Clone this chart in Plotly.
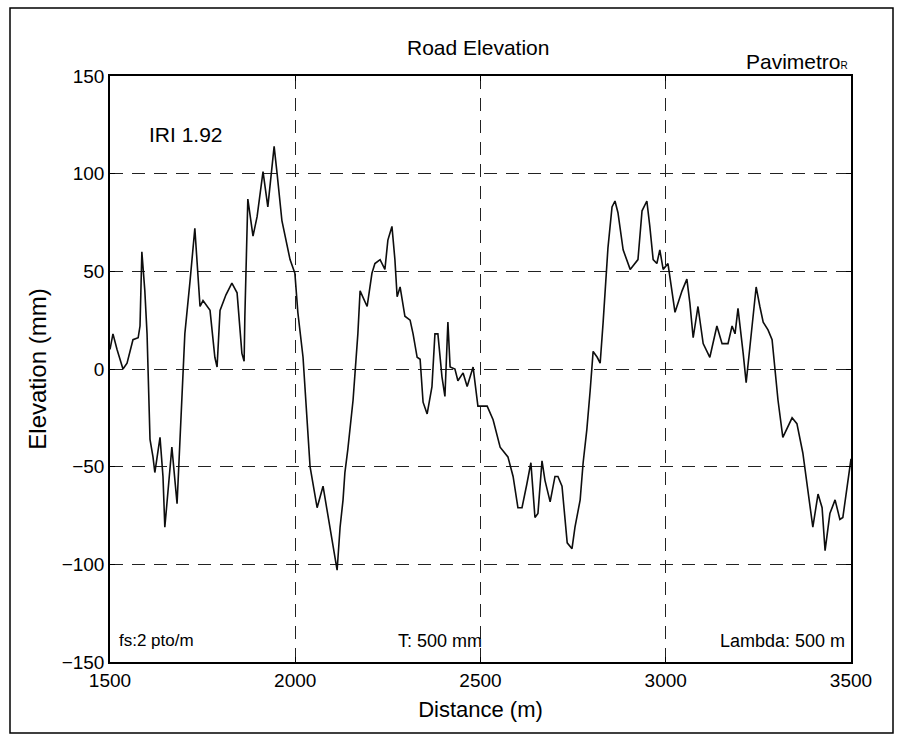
import plotly.graph_objects as go

# Longitudinal road profile, distance (m) vs elevation (mm)
distance_m = [
    1500, 1508, 1519, 1535, 1546, 1562, 1576, 1581, 1586, 1594, 1600, 1608, 1616, 1621,
    1635, 1643, 1648, 1657, 1667, 1681, 1689, 1702, 1716, 1729, 1743, 1751, 1770, 1783,
    1789, 1797, 1813, 1829, 1843, 1856, 1862, 1864, 1872, 1886, 1897, 1913, 1926, 1943,
    1951, 1964, 1986, 1999, 2007, 2021, 2040, 2059, 2075, 2094, 2113, 2121, 2129, 2134,
    2142, 2156, 2161, 2169, 2175, 2194, 2207, 2215, 2229, 2242, 2250, 2261, 2269, 2275,
    2283, 2296, 2310, 2318, 2329, 2337, 2345, 2356, 2369, 2377, 2385, 2396, 2404, 2412,
    2418, 2431, 2439, 2453, 2464, 2480, 2493, 2518, 2534, 2553, 2574, 2588, 2601, 2612,
    2625, 2636, 2647, 2655, 2666, 2674, 2688, 2701, 2709, 2720, 2734, 2747, 2755, 2769,
    2777, 2787, 2796, 2804, 2815, 2823, 2831, 2844, 2855, 2863, 2871, 2885, 2904, 2917,
    2925, 2936, 2949, 2957, 2966, 2976, 2984, 2993, 3006, 3025, 3044, 3057, 3065, 3074,
    3087, 3101, 3119, 3138, 3152, 3168, 3179, 3187, 3195, 3209, 3217, 3227, 3244, 3254,
    3263, 3276, 3287, 3303, 3316, 3341, 3354, 3370, 3389, 3397, 3411, 3422, 3430, 3443,
    3457, 3470, 3478, 3497, 3500,
]
elevation_mm = [
    10, 18, 10, 0, 3, 15, 16, 22, 60, 40, 18, -36, -45, -53,
    -35, -55, -81, -60, -40, -69, -33, 18, 45, 72, 32, 35, 30, 6,
    1, 30, 38, 44, 39, 8, 4, 27, 87, 68, 78, 101, 83, 114,
    100, 76, 56, 49, 29, 6, -50, -71, -60, -81, -103, -81, -67, -53,
    -41, -16, -4, 18, 40, 32, 49, 54, 56, 51, 66, 73, 56, 37,
    42, 27, 25, 18, 6, 5, -17, -23, -9, 18, 18, -4, -14, 24,
    1, 0, -6, -2, -9, 1, -19, -19, -26, -40, -45, -55, -71, -71,
    -59, -48, -76, -74, -47, -57, -68, -55, -55, -60, -89, -92, -81, -67,
    -48, -31, -11, 9, 6, 3, 24, 62, 83, 86, 80, 61, 51, 54,
    56, 81, 86, 73, 56, 54, 61, 51, 54, 29, 40, 46, 34, 16,
    32, 13, 6, 22, 13, 13, 22, 18, 31, 8, -7, 11, 42, 32,
    24, 20, 15, -16, -35, -25, -28, -43, -69, -81, -64, -71, -93, -74,
    -67, -77, -76, -48, -46,
]

x_ticks = [1500, 2000, 2500, 3000, 3500]
y_ticks = [-150, -100, -50, 0, 50, 100, 150]

iri_label = "IRI 1.92"
fs_label = "fs:2 pto/m"
t_label = "T: 500 mm"
lambda_label = "Lambda: 500 m"

FONT = "Liberation Sans, Arial, sans-serif"

fig = go.Figure()
fig.add_trace(go.Scatter(
    x=distance_m, y=elevation_mm, mode="lines",
    line=dict(color="#0d0d0d", width=1.6),
    showlegend=False, hoverinfo="x+y",
))

axis_common = dict(
    showline=True, linecolor="black", linewidth=1.5, mirror="ticks",
    ticks="inside", ticklen=5, tickcolor="black",
    showgrid=True, gridcolor="#222222", gridwidth=1, griddash="13px,9px",
    zeroline=False, tickfont=dict(family=FONT, size=19, color="black"),
)

fig.update_layout(
    width=904, height=743,
    margin=dict(l=110, r=53, t=76, b=81),
    paper_bgcolor="white", plot_bgcolor="white",
    font=dict(family=FONT, color="black"),
    xaxis=dict(range=[1500, 3500], tickvals=x_ticks,
               title=dict(text="Distance (m)", font=dict(family=FONT, size=22), standoff=12),
               **axis_common),
    yaxis=dict(range=[-150, 150], tickvals=y_ticks,
               title=dict(text="Elevation (mm)", font=dict(family=FONT, size=24), standoff=8),
               **axis_common),
)

# Outer frame around the whole figure
fig.add_shape(type="rect", xref="paper", yref="paper",
              x0=-100 / 741, x1=783 / 741, y0=-71 / 586, y1=654 / 586,
              line=dict(color="black", width=1.5), fillcolor="rgba(0,0,0,0)")

annotations = [
    dict(text="Road Elevation", x=0.497, y=1.048, xanchor="center", yanchor="middle", size=21),
    dict(text="Pavimetro<span style='font-size:10px'>R</span>", x=0.999, y=1.024,
         xanchor="right", yanchor="middle", size=21),
    dict(text=iri_label, x=0.05, y=0.901, xanchor="left", yanchor="middle", size=21),
    dict(text=fs_label, x=0.009, y=0.036, xanchor="left", yanchor="middle", size=17),
    dict(text=t_label, x=0.445, y=0.036, xanchor="center", yanchor="middle", size=18),
    dict(text=lambda_label, x=0.995, y=0.036, xanchor="right", yanchor="middle", size=18),
]
for a in annotations:
    fig.add_annotation(text=a["text"], x=a["x"], y=a["y"], xref="paper", yref="paper",
                       xanchor=a["xanchor"], yanchor=a["yanchor"], showarrow=False,
                       font=dict(family=FONT, size=a["size"], color="black"))

fig.write_html("out.html")
